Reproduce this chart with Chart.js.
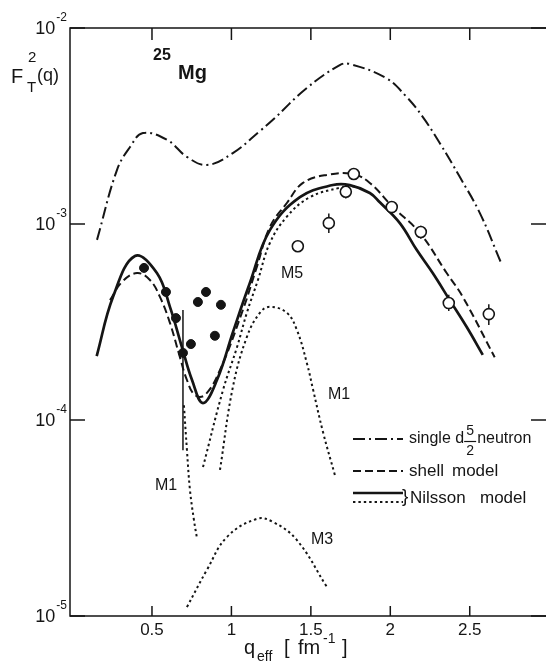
<!DOCTYPE html>
<html>
<head>
<meta charset="utf-8">
<script src="https://cdn.jsdelivr.net/npm/chart.js@4.4.0/dist/chart.umd.min.js"></script>
<style>
  html, body { margin: 0; padding: 0; background: #fff; }
  canvas { display: block; }
</style>
</head>
<body>
<canvas id="chart" width="546" height="664"></canvas>
<script>
// ---- data (q in fm^-1, F_T^2) ----
const xTicks = [0.5, 1, 1.5, 2, 2.5];
const xTickLabels = ['0.5', '1', '1.5', '2', '2.5'];
const yTicks = [1e-5, 1e-4, 1e-3, 1e-2];
const yTickExps = ['-5', '-4', '-3', '-2'];

// single d5/2 neutron (dash-dot)
const qSingle = [0.154, 0.28, 0.362, 0.443, 0.594, 0.72, 0.846, 1.009, 1.179, 1.261, 1.469, 1.682, 1.745, 1.972, 2.097, 2.204, 2.311, 2.437, 2.563, 2.695];
const fSingle = [8.3e-4, 1.89e-3, 2.47e-3, 2.91e-3, 2.69e-3, 2.2e-3, 2.0e-3, 2.3e-3, 2.98e-3, 3.4e-3, 4.9e-3, 6.47e-3, 6.55e-3, 5.56e-3, 4.5e-3, 3.52e-3, 2.59e-3, 1.74e-3, 1.14e-3, 6.4e-4];

// shell model (dashed)
const qShell = [0.236, 0.311, 0.406, 0.487, 0.55, 0.613, 0.676, 0.72, 0.77, 0.833, 0.928, 1.072, 1.16, 1.242, 1.349, 1.45, 1.6, 1.764, 1.871, 2.016, 2.186, 2.355, 2.456, 2.657];
const fShell = [4.09e-4, 5.06e-4, 5.62e-4, 5.18e-4, 4.25e-4, 3.13e-4, 2.09e-4, 1.6e-4, 1.34e-4, 1.34e-4, 1.8e-4, 3.64e-4, 6.04e-4, 9.66e-4, 1.28e-3, 1.62e-3, 1.78e-3, 1.8e-3, 1.62e-3, 1.22e-3, 9.0e-4, 5.62e-4, 4.25e-4, 2.09e-4];

// Nilsson model total (solid)
const qNilsson = [0.152, 0.255, 0.393, 0.531, 0.613, 0.689, 0.752, 0.821, 0.909, 1.009, 1.116, 1.242, 1.431, 1.638, 1.745, 1.871, 1.934, 2.06, 2.167, 2.267, 2.374, 2.481, 2.582];
const fNilsson = [2.12e-4, 4.25e-4, 6.87e-4, 5.62e-4, 3.78e-4, 2.35e-4, 1.6e-4, 1.22e-4, 1.6e-4, 2.8e-4, 5.0e-4, 9.3e-4, 1.37e-3, 1.58e-3, 1.58e-3, 1.44e-3, 1.29e-3, 1.01e-3, 7.36e-4, 5.62e-4, 4.09e-4, 2.98e-4, 2.15e-4];

// Nilsson multipole parts (dotted)
const qM5 = [0.821, 0.947, 1.035, 1.097, 1.167, 1.242, 1.349, 1.494, 1.682, 1.777];
const fM5 = [5.75e-5, 1.42e-4, 2.35e-4, 3.52e-4, 5.18e-4, 8.0e-4, 1.09e-3, 1.37e-3, 1.53e-3, 1.56e-3];
const qM1a = [0.701, 0.72, 0.739, 0.764, 0.783];
const fM1a = [1.19e-4, 7.03e-5, 4.4e-5, 3.09e-5, 2.5e-5];
const qM1b = [0.928, 1.009, 1.097, 1.179, 1.242, 1.349, 1.412, 1.475, 1.513, 1.576, 1.651];
const fM1b = [5.56e-5, 1.47e-4, 2.65e-4, 3.52e-4, 3.78e-4, 3.52e-4, 2.88e-4, 1.95e-4, 1.44e-4, 8.7e-5, 5.24e-5];
const qM3 = [0.72, 0.846, 0.972, 1.16, 1.261, 1.412, 1.6];
const fM3 = [1.11e-5, 1.72e-5, 2.53e-5, 3.13e-5, 3.02e-5, 2.44e-5, 1.41e-5];

// measurements: filled circles (low q), open circles (high q)
const qFilled = [0.45, 0.588, 0.651, 0.695, 0.745, 0.789, 0.84, 0.896, 0.934];
const fFilled = [5.97e-4, 4.5e-4, 3.31e-4, 2.2e-4, 2.44e-4, 4.0e-4, 4.5e-4, 2.69e-4, 3.87e-4];
const fFilledHi = [null, null, null, 3.64e-4, null, null, null, null, null];
const fFilledLo = [null, null, null, 7.0e-5, null, null, null, null, null];

const qOpen = [1.418, 1.613, 1.72, 1.77, 2.009, 2.192, 2.368, 2.62];
const fOpen = [7.7e-4, 1.01e-3, 1.46e-3, 1.8e-3, 1.22e-3, 9.1e-4, 3.95e-4, 3.47e-4];
const fOpenHi = [7.7e-4, 1.13e-3, 1.58e-3, 1.93e-3, 1.3e-3, 9.8e-4, 4.35e-4, 3.9e-4];
const fOpenLo = [7.7e-4, 0.9e-3, 1.35e-3, 1.68e-3, 1.14e-3, 8.4e-4, 3.6e-4, 3.05e-4];

const FONT = '"Liberation Sans", Arial, sans-serif';
const INK = '#151515';

function pts(qs, fs) {
  return qs.map((q, i) => ({ x: q, y: fs[i] }));
}

function curve(label, qs, fs, dash, width) {
  return {
    type: 'line',
    label: label,
    data: pts(qs, fs),
    borderColor: INK,
    borderWidth: width,
    borderDash: dash,
    pointRadius: 0,
    fill: false,
    tension: 0.4
  };
}

const DASHDOT = [12, 4, 2, 4];
const DASHED = [8, 4];
const DOTTED = [2.4, 3];

// error bars, frame, ticks, labels and legend
const decorations = {
  id: 'decorations',
  beforeDatasetsDraw(chart) {
    const ctx = chart.ctx;
    const xs = chart.scales.x, ys = chart.scales.y;
    ctx.save();
    ctx.strokeStyle = INK;
    ctx.lineWidth = 1.5;
    const bars = (qs, hi, lo) => {
      qs.forEach((q, i) => {
        if (hi[i] == null) return;
        const px = xs.getPixelForValue(q);
        ctx.beginPath();
        ctx.moveTo(px, ys.getPixelForValue(hi[i]));
        ctx.lineTo(px, ys.getPixelForValue(lo[i]));
        ctx.stroke();
      });
    };
    bars(qFilled, fFilledHi, fFilledLo);
    bars(qOpen, fOpenHi, fOpenLo);
    ctx.restore();
  },
  afterDraw(chart) {
    const ctx = chart.ctx;
    const a = chart.chartArea;
    const xs = chart.scales.x, ys = chart.scales.y;
    ctx.save();
    ctx.strokeStyle = INK;
    ctx.fillStyle = INK;
    ctx.lineWidth = 1.5;
    ctx.setLineDash([]);

    // frame (right side falls at the page edge)
    ctx.beginPath();
    ctx.moveTo(a.right, a.top);
    ctx.lineTo(a.left, a.top);
    ctx.lineTo(a.left, a.bottom);
    ctx.lineTo(a.right, a.bottom);
    ctx.stroke();

    // x ticks (inward, top and bottom) + labels
    ctx.font = '17px ' + FONT;
    ctx.textAlign = 'center';
    ctx.textBaseline = 'middle';
    xTicks.forEach((v, i) => {
      const px = xs.getPixelForValue(v);
      ctx.beginPath();
      ctx.moveTo(px, a.bottom); ctx.lineTo(px, a.bottom - 10);
      ctx.moveTo(px, a.top); ctx.lineTo(px, a.top + 12);
      ctx.stroke();
      ctx.fillText(xTickLabels[i], px, a.bottom + 14);
    });

    // y ticks + 10^n labels
    yTicks.forEach((v, i) => {
      const py = ys.getPixelForValue(v);
      ctx.beginPath();
      ctx.moveTo(a.left, py); ctx.lineTo(a.left + 15, py);
      ctx.moveTo(a.right, py); ctx.lineTo(a.right - 15, py);
      ctx.stroke();
      ctx.textAlign = 'right';
      ctx.font = '12px ' + FONT;
      const expW = ctx.measureText(yTickExps[i]).width;
      ctx.fillText(yTickExps[i], a.left - 3, py - 10);
      ctx.font = '18px ' + FONT;
      ctx.fillText('10', a.left - 4 - expW, py + 1);
    });

    // x axis title: q_eff [ fm^-1 ]
    ctx.textAlign = 'left';
    const ty = 651;
    ctx.font = '20px ' + FONT;
    ctx.fillText('q', 244, ty - 3);
    ctx.font = '14px ' + FONT;
    ctx.fillText('eff', 257, ty + 6);
    ctx.font = '20px ' + FONT;
    ctx.fillText('[', 284, ty - 3);
    ctx.fillText('fm', 298, ty - 3);
    ctx.font = '14px ' + FONT;
    ctx.fillText('-1', 323, ty - 12);
    ctx.font = '20px ' + FONT;
    ctx.fillText(']', 342, ty - 3);

    // y axis title: F_T^2(q)
    ctx.font = '20px ' + FONT;
    ctx.fillText('F', 11, 77);
    ctx.font = '15px ' + FONT;
    ctx.fillText('2', 28, 58);
    ctx.fillText('T', 27, 88);
    ctx.font = '18px ' + FONT;
    ctx.fillText('(q)', 37, 76);

    // nucleus label
    ctx.font = 'bold 16px ' + FONT;
    ctx.fillText('25', 153, 56);
    ctx.font = 'bold 20px ' + FONT;
    ctx.fillText('Mg', 178, 73);

    // multipole labels
    ctx.font = '16px ' + FONT;
    ctx.textAlign = 'center';
    ctx.fillText('M5', 292, 274);
    ctx.fillText('M1', 339, 395);
    ctx.fillText('M1', 166, 486);
    ctx.fillText('M3', 322, 540);

    // legend
    const lx0 = 353, lx1 = 403;
    const seg = (y, dash, w) => {
      ctx.setLineDash(dash);
      ctx.lineWidth = w;
      ctx.beginPath();
      ctx.moveTo(lx0, y); ctx.lineTo(lx1, y);
      ctx.stroke();
    };
    seg(439, DASHDOT, 2);
    seg(471, DASHED, 2);
    seg(493, [], 2.5);
    seg(502, DOTTED, 2);
    ctx.setLineDash([]);
    ctx.lineWidth = 1.2;
    ctx.textAlign = 'left';
    ctx.font = '16px ' + FONT;
    ctx.fillText('single d', 409, 439);
    const fx = 409 + ctx.measureText('single d').width + 6;
    ctx.font = '14px ' + FONT;
    ctx.textAlign = 'center';
    ctx.fillText('5', fx, 431);
    ctx.fillText('2', fx, 451);
    ctx.beginPath();
    ctx.moveTo(fx - 6, 441.5); ctx.lineTo(fx + 6, 441.5);
    ctx.stroke();
    ctx.textAlign = 'left';
    ctx.font = '16px ' + FONT;
    ctx.fillText('neutron', fx + 7, 439);
    ctx.font = '17px ' + FONT;
    ctx.fillText('shell', 409, 471);
    ctx.fillText('model', 452, 471);
    ctx.font = '19px ' + FONT;
    ctx.fillText('}', 402, 497);
    ctx.font = '17px ' + FONT;
    ctx.fillText('Nilsson', 410, 498);
    ctx.fillText('model', 480, 498);

    ctx.restore();
  }
};

const datasets = [
  {
    type: 'line', label: 'data (open)', data: pts(qOpen, fOpen), showLine: false,
    pointRadius: 5.5, pointBackgroundColor: '#fff', pointBorderColor: INK, pointBorderWidth: 1.6
  },
  {
    type: 'line', label: 'data (filled)', data: pts(qFilled, fFilled), showLine: false,
    pointRadius: 4.5, pointBackgroundColor: INK, pointBorderColor: INK, pointBorderWidth: 1
  },
  curve('single d5/2 neutron', qSingle, fSingle, DASHDOT, 2),
  curve('shell model', qShell, fShell, DASHED, 2),
  curve('Nilsson model', qNilsson, fNilsson, [], 2.7),
  curve('Nilsson M5', qM5, fM5, DOTTED, 2),
  curve('Nilsson M1', qM1a, fM1a, DOTTED, 2),
  curve('Nilsson M1 ', qM1b, fM1b, DOTTED, 2),
  curve('Nilsson M3', qM3, fM3, DOTTED, 2)
];

new Chart(document.getElementById('chart'), {
  type: 'line',
  data: { datasets: datasets },
  options: {
    responsive: false,
    animation: false,
    devicePixelRatio: 1,
    layout: { autoPadding: false, padding: { left: 70, right: 0, top: 28, bottom: 48 } },
    plugins: { legend: { display: false }, tooltip: { enabled: false } },
    scales: {
      x: { type: 'linear', min: -0.016, max: 2.98, display: false },
      y: { type: 'logarithmic', min: 1e-5, max: 1e-2, display: false }
    }
  },
  plugins: [decorations]
});
</script>
</body>
</html>
